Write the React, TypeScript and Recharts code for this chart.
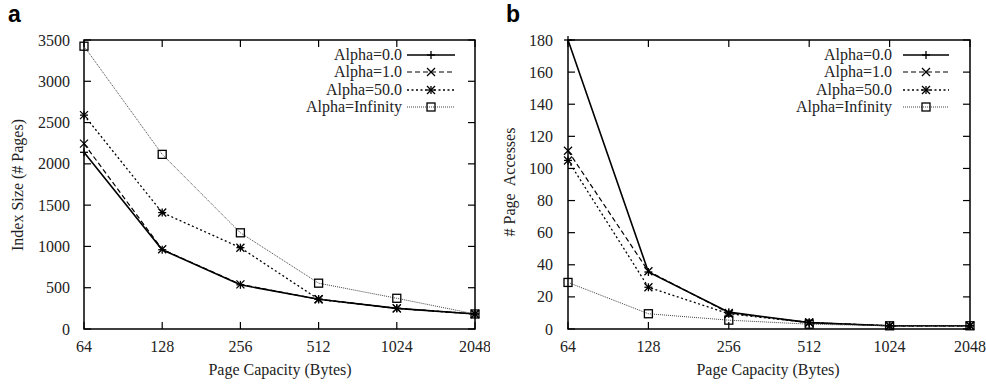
import React from 'react';
import { LineChart, Line, XAxis, YAxis, Legend, ReferenceArea } from 'recharts';

const capacities = ['64', '128', '256', '512', '1024', '2048'];
const seriesNames = ['Alpha=0.0', 'Alpha=1.0', 'Alpha=50.0', 'Alpha=Infinity'];

// panel a: index size (# pages)
const sizeAlpha0 = [2140, 960, 535, 360, 250, 182];
const sizeAlpha1 = [2245, 965, 540, 360, 250, 182];
const sizeAlpha50 = [2590, 1410, 985, 360, 250, 182];
const sizeAlphaInf = [3425, 2115, 1165, 555, 372, 182];
const sizeTicks = [0, 500, 1000, 1500, 2000, 2500, 3000, 3500];

// panel b: # page accesses
const accAlpha0 = [180, 35.5, 10.5, 4, 2, 2];
const accAlpha1 = [111, 36, 10, 4, 2, 2];
const accAlpha50 = [105, 26, 9.5, 4, 2, 2];
const accAlphaInf = [29, 9.5, 5.5, 3, 2, 2];
const accTicks = [0, 20, 40, 60, 80, 100, 120, 140, 160, 180];

const xTicks = capacities.map((_, i) => i);
const FONT = '"Liberation Serif", "Times New Roman", serif';
const TOP = 40;
const BOTTOM = 329;
const TICK = 7;

const styles = [
  { dash: undefined, width: 1.6, color: '#000', marker: 'plus' },
  { dash: '5 3', width: 1.2, color: '#000', marker: 'cross' },
  { dash: '2 2.5', width: 1.3, color: '#000', marker: 'star' },
  { dash: '1 1', width: 1, color: '#444', marker: 'square' },
];

function Marker({ kind, cx, cy }: { kind: string; cx: number; cy: number }) {
  const s = 4;
  const p = { stroke: '#000', strokeWidth: 1.3 };
  if (kind === 'plus')
    return (
      <g>
        <line x1={cx - s} y1={cy} x2={cx + s} y2={cy} {...p} />
        <line x1={cx} y1={cy - s} x2={cx} y2={cy + s} {...p} />
      </g>
    );
  if (kind === 'cross')
    return (
      <g>
        <line x1={cx - s} y1={cy - s} x2={cx + s} y2={cy + s} {...p} />
        <line x1={cx - s} y1={cy + s} x2={cx + s} y2={cy - s} {...p} />
      </g>
    );
  if (kind === 'star')
    return (
      <g>
        <line x1={cx - s} y1={cy} x2={cx + s} y2={cy} {...p} />
        <line x1={cx} y1={cy - s} x2={cx} y2={cy + s} {...p} />
        <line x1={cx - s} y1={cy - s} x2={cx + s} y2={cy + s} {...p} />
        <line x1={cx - s} y1={cy + s} x2={cx + s} y2={cy - s} {...p} />
      </g>
    );
  return <rect x={cx - s} y={cy - s} width={2 * s} height={2 * s} fill="none" {...p} />;
}

function LegendBox({ lineX1, lineX2 }: { lineX1: number; lineX2: number }) {
  const rows = [15, 32, 50, 67];
  return (
    <svg width={220} height={80} style={{ overflow: 'visible' }}>
      {seriesNames.map((name, i) => {
        const st = styles[i];
        return (
          <g key={name}>
            <text x={152} y={rows[i] + 5} textAnchor="end" fontFamily={FONT} fontSize={16} fill="#222">
              {name}
            </text>
            <line x1={lineX1} y1={rows[i]} x2={lineX2} y2={rows[i]} stroke={st.color} strokeWidth={st.width} strokeDasharray={st.dash} />
            <Marker kind={st.marker} cx={(lineX1 + lineX2) / 2} cy={rows[i]} />
          </g>
        );
      })}
    </svg>
  );
}

// gnuplot style: ticks point inward and are mirrored on the opposite border
function XTick({ x, y, payload }: any) {
  return (
    <g>
      <line x1={x} y1={y} x2={x} y2={y - TICK} stroke="#000" strokeWidth={1.2} />
      <line x1={x} y1={TOP} x2={x} y2={TOP + TICK} stroke="#000" strokeWidth={1.2} />
      <text x={x} y={y + 23} textAnchor="middle" fontFamily={FONT} fontSize={16} fill="#222">
        {capacities[payload.value]}
      </text>
    </g>
  );
}

function makeYTick(plotRight: number, gap: number) {
  return ({ x, y, payload }: any) => (
    <g>
      <line x1={x} y1={y} x2={x + TICK} y2={y} stroke="#000" strokeWidth={1.2} />
      <line x1={plotRight} y1={y} x2={plotRight - TICK} y2={y} stroke="#000" strokeWidth={1.2} />
      <text x={x - gap} y={y + 5.5} textAnchor="end" fontFamily={FONT} fontSize={16} fill="#222">
        {payload.value}
      </text>
    </g>
  );
}

function Panel({ series, ticks, yMax, yWidth, gap, w, rightMargin, lineX1, lineX2 }: any) {
  const data = capacities.map((c, i) => {
    const row: any = { x: i, label: c };
    series.forEach((s: number[], k: number) => (row['s' + k] = s[i]));
    return row;
  });
  const YTick = makeYTick(w - rightMargin, gap);
  return (
    <LineChart width={w} height={386} data={data} margin={{ top: TOP, right: rightMargin, bottom: 386 - BOTTOM - 30, left: 0 }}>
      <XAxis dataKey="x" type="number" domain={[0, 5]} ticks={xTicks} axisLine={false} tickLine={false}
        tickSize={0} tickMargin={0} tick={<XTick />} height={30} interval={0} />
      <YAxis type="number" domain={[0, yMax]} ticks={ticks} width={yWidth} axisLine={false} tickLine={false}
        tickSize={0} tickMargin={0} tick={<YTick />} interval={0} />
      <ReferenceArea x1={0} x2={5} y1={0} y2={yMax} fill="none" stroke="#000" strokeWidth={1.5} ifOverflow="visible" />
      {series.map((_: number[], k: number) => (
        <Line key={k} dataKey={'s' + k} type="linear" stroke={styles[k].color} strokeWidth={styles[k].width}
          strokeDasharray={styles[k].dash} isAnimationActive={false}
          dot={(p: any) => <Marker key={p.index} kind={styles[k].marker} cx={p.cx} cy={p.cy} />}
          activeDot={false} />
      ))}
      <Legend layout="horizontal" verticalAlign="middle" align="center"
        wrapperStyle={{ left: 250, top: 40, width: 220, height: 80 }}
        content={() => <LegendBox lineX1={lineX1} lineX2={lineX2} />} />
    </LineChart>
  );
}

const textStyle: React.CSSProperties = { position: 'absolute', fontFamily: FONT, fontSize: 16, color: '#222', whiteSpace: 'pre' };
const panelLabel: React.CSSProperties = { position: 'absolute', top: 3, lineHeight: 1, fontFamily: '"Liberation Sans", Arial, sans-serif', fontWeight: 700, fontSize: 23 };

export default function App() {
  return (
    <div style={{ position: 'absolute', left: 0, top: 0, width: 986, height: 386, background: '#fff' }}>
      <div style={{ position: 'absolute', left: 0, top: 0 }}>
        <Panel series={[sizeAlpha0, sizeAlpha1, sizeAlpha50, sizeAlphaInf]} ticks={sizeTicks} yMax={3500}
          yWidth={84} gap={14} w={490} rightMargin={15} lineX1={157} lineX2={205} />
      </div>
      <div style={{ position: 'absolute', left: 490, top: 0 }}>
        <Panel series={[accAlpha0, accAlpha1, accAlpha50, accAlphaInf]} ticks={accTicks} yMax={180}
          yWidth={78} gap={15} w={496} rightMargin={16} lineX1={163} lineX2={209} />
      </div>
      <div style={{ ...panelLabel, left: 8 }}>a</div>
      <div style={{ ...panelLabel, left: 506 }}>b</div>
      <div style={{ ...textStyle, left: 280, top: 370, transform: 'translate(-50%, -50%)' }}>Page Capacity (Bytes)</div>
      <div style={{ ...textStyle, left: 768, top: 370, transform: 'translate(-50%, -50%)' }}>Page Capacity (Bytes)</div>
      <div style={{ ...textStyle, left: 18, top: 185, transform: 'translate(-50%, -50%) rotate(-90deg)' }}>Index Size (# Pages)</div>
      <div style={{ ...textStyle, left: 510, top: 182, transform: 'translate(-50%, -50%) rotate(-90deg)' }}>{'# Page  Accesses'}</div>
    </div>
  );
}
